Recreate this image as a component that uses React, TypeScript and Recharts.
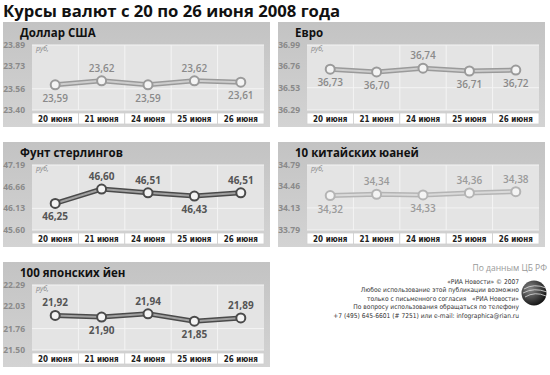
import React from "react";
import { CartesianGrid, LabelList, Line, LineChart, XAxis, YAxis } from "recharts";

const days = ["20 июня", "21 июня", "24 июня", "25 июня", "26 июня"];

const usdValues = [23.59, 23.62, 23.59, 23.62, 23.61];
const eurValues = [36.73, 36.7, 36.74, 36.71, 36.72];
const gbpValues = [46.25, 46.6, 46.51, 46.43, 46.51];
const cnyValues = [34.32, 34.34, 34.33, 34.36, 34.38];
const jpyValues = [21.92, 21.9, 21.94, 21.85, 21.89];

const usdTicks = [23.4, 23.56, 23.73, 23.89];
const eurTicks = [36.29, 36.53, 36.76, 36.99];
const gbpTicks = [45.6, 46.13, 46.66, 47.19];
const cnyTicks = [33.79, 34.13, 34.46, 34.79];
const jpyTicks = [21.5, 21.76, 22.03, 22.29];

// where each value label sits relative to its point
const usdSides = ["below", "above", "below", "above", "below"];
const eurSides = ["below", "below", "above", "below", "below"];
const gbpSides = ["below", "above", "above", "below", "above"];
const cnySides = ["below", "above", "below", "above", "above"];
const jpySides = ["above", "below", "above", "below", "above"];

const footerLines = [
  "«РИА Новости» © 2007",
  "Любое использование этой публикации возможно",
  "только с письменного согласия   «РИА Новости»",
  "По вопросу использования обращаться по телефону",
  "+7 (495) 645-6601 (# 7251) или e-mail: infographica@rian.ru",
];

const FONT = "'Open Sans', 'Noto Sans', sans-serif";
const NARROW = "'Liberation Sans Narrow', 'DejaVu Sans Condensed', sans-serif";

const themes = {
  light: { outer: "#9a9a9a", inner: "#cdcdcd", label: "#8a8a8a", weight: 600 },
  pale: { outer: "#b4b4b4", inner: "#dadada", label: "#9a9a9a", weight: 600 },
  dark: { outer: "#4a4a4a", inner: "#a0a0a0", label: "#555", weight: 700 },
};

const PANEL_W = 267;
const CHART_H = 86;
const M = { top: 5, right: 6, bottom: 2, left: 0 };
const Y_W = 29;
const BAND = (PANEL_W - M.left - M.right - Y_W) / days.length;

function DayTick(props: any) {
  const { x, y, payload } = props;
  return (
    <g>
      <rect x={x - BAND / 2} y={y + 3} width={BAND} height={11} fill="#fff" stroke="#cfcfcf" strokeWidth={0.8} />
      <text x={x} y={y + 11.5} textAnchor="middle" fontSize={8} fontFamily={NARROW} fontWeight={700} fill="#222">
        {payload.value}
      </text>
    </g>
  );
}

function Panel({ title, values, ticks, sides, theme, left, top }: any) {
  const t = (themes as any)[theme];
  const data = days.map((d, i) => ({ day: d, v: values[i] }));
  const renderLabel = (p: any) => {
    const side = sides[p.index];
    const ty = side === "above" ? p.y - 9 : p.y + 17;
    return (
      <text x={p.x} y={ty} textAnchor="middle" fontSize={10} fontWeight={t.weight} fontFamily={FONT} fill={t.label}>
        {Number(p.value).toFixed(2).replace(".", ",")}
      </text>
    );
  };
  return (
    <div
      style={{
        position: "absolute",
        left,
        top,
        width: PANEL_W,
        height: 105,
        background: "linear-gradient(#c3c3c3, #d3d3d3)",
      }}
    >
      <div style={{ position: "absolute", left: 17, top: 3, fontFamily: FONT, fontWeight: 700, fontSize: 11.5, color: "#111" }}>
        {title}
      </div>
      <div style={{ position: "absolute", left: 33, top: 22, fontFamily: FONT, fontStyle: "italic", fontSize: 7, color: "#888", zIndex: 2 }}>
        руб,
      </div>
      <div style={{ position: "absolute", left: 0, top: 18 }}>
        <LineChart width={PANEL_W} height={CHART_H} data={data} margin={M}>
          <CartesianGrid
            fill="#e4e4e4"
            stroke="#f4f4f4"
            strokeWidth={1}
            verticalCoordinatesGenerator={({ offset }: any) =>
              [1, 2, 3, 4].map((i) => offset.left + (i * offset.width) / days.length)
            }
          />
          <XAxis
            dataKey="day"
            interval={0}
            padding={{ left: BAND / 2, right: BAND / 2 }}
            height={14}
            tickSize={0}
            tickMargin={0}
            axisLine={false}
            tickLine={false}
            tick={<DayTick />}
          />
          <YAxis
            width={Y_W}
            domain={[ticks[0], ticks[ticks.length - 1]]}
            ticks={ticks}
            tickFormatter={(v: number) => v.toFixed(2)}
            axisLine={false}
            tickLine={false}
            tickMargin={1}
            tick={{ fontSize: 8.5, fontWeight: 700, fill: "#8a8a8a", fontFamily: FONT }}
          />
          <Line dataKey="v" stroke={t.outer} strokeWidth={5} dot={false} activeDot={false} isAnimationActive={false} />
          <Line
            dataKey="v"
            stroke={t.inner}
            strokeWidth={2}
            dot={{ r: 4.5, fill: "#f4f4f4", stroke: t.outer, strokeWidth: 2 }}
            activeDot={false}
            isAnimationActive={false}
          >
            <LabelList dataKey="v" content={renderLabel} />
          </Line>
        </LineChart>
      </div>
    </div>
  );
}

export default function App() {
  return (
    <div style={{ position: "absolute", left: 0, top: 0, width: 550, height: 375, background: "#fff", overflow: "hidden" }}>
      <div style={{ position: "absolute", left: 3, top: -1, fontFamily: FONT, fontWeight: 700, fontSize: 16.7, color: "#111", whiteSpace: "nowrap" }}>
        Курсы валют с 20 по 26 июня 2008 года
      </div>
      <Panel title="Доллар США" values={usdValues} ticks={usdTicks} sides={usdSides} theme="light" left={3} top={22} />
      <Panel title="Евро" values={eurValues} ticks={eurTicks} sides={eurSides} theme="light" left={278} top={22} />
      <Panel title="Фунт стерлингов" values={gbpValues} ticks={gbpTicks} sides={gbpSides} theme="dark" left={3} top={142} />
      <Panel title="10 китайских юаней" values={cnyValues} ticks={cnyTicks} sides={cnySides} theme="pale" left={278} top={142} />
      <Panel title="100 японских йен" values={jpyValues} ticks={jpyTicks} sides={jpySides} theme="dark" left={3} top={262} />
      <div style={{ position: "absolute", right: 3, top: 262, fontFamily: FONT, fontSize: 8.5, color: "#999" }}>По данным ЦБ РФ</div>
      <div
        style={{
          position: "absolute",
          right: 31,
          top: 278,
          fontFamily: NARROW,
          fontSize: 6.6,
          lineHeight: "8.4px",
          color: "#333",
          textAlign: "right",
          whiteSpace: "pre",
        }}
      >
        {footerLines.map((l) => (
          <div key={l}>{l}</div>
        ))}
      </div>
      <svg style={{ position: "absolute", left: 520, top: 279 }} width={28} height={28}>
        <defs>
          <radialGradient id="globe" cx="0.35" cy="0.35" r="0.7">
            <stop offset="0" stopColor="#888" />
            <stop offset="1" stopColor="#111" />
          </radialGradient>
        </defs>
        <circle cx={14} cy={14} r={12.5} fill="url(#globe)" />
        <path d="M4 10 Q14 4 26 9" stroke="#ddd" strokeWidth={0.8} fill="none" />
        <path d="M3 14 Q14 8 27 13" stroke="#ddd" strokeWidth={0.8} fill="none" />
        <path d="M5 18 Q15 12 26 17" stroke="#ddd" strokeWidth={0.8} fill="none" />
      </svg>
    </div>
  );
}
